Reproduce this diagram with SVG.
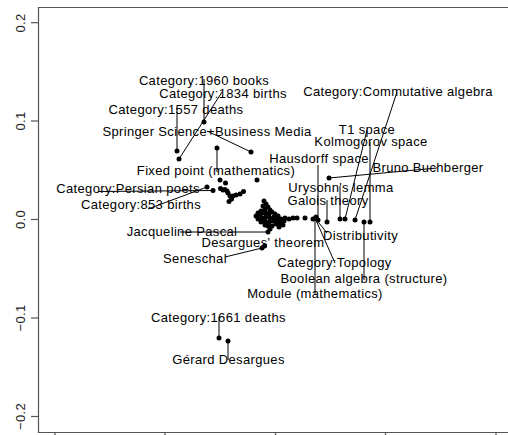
<svg xmlns="http://www.w3.org/2000/svg" width="508" height="435" viewBox="0 0 508 435">
<style>
text{font-family:"Liberation Sans",Arial,Helvetica,sans-serif;font-size:13px;letter-spacing:0.35px;fill:#000;text-anchor:middle}
.ax{font-size:13px;fill:#222}
.frame{fill:none;stroke:#555;stroke-width:1.2}
.tick{stroke:#555;stroke-width:1.2}
.conn line{stroke:#000;stroke-width:1}
.pt circle{fill:#000}
</style>
<rect width="508" height="435" fill="#fff"/>
<g id="axes">
<path class="frame" d="M509 7.5 H38.5 V432.5 H509"/>
<line class="tick" x1="31" y1="22.7" x2="38.5" y2="22.7"/>
<line class="tick" x1="31" y1="121" x2="38.5" y2="121"/>
<line class="tick" x1="31" y1="219.5" x2="38.5" y2="219.5"/>
<line class="tick" x1="31" y1="318" x2="38.5" y2="318"/>
<line class="tick" x1="31" y1="416.5" x2="38.5" y2="416.5"/>
<line class="tick" x1="55" y1="432.5" x2="55" y2="440"/>
<line class="tick" x1="165" y1="432.5" x2="165" y2="440"/>
<line class="tick" x1="275.5" y1="432.5" x2="275.5" y2="440"/>
<line class="tick" x1="385.5" y1="432.5" x2="385.5" y2="440"/>
<line class="tick" x1="496" y1="432.5" x2="496" y2="440"/>
<text class="ax" transform="translate(25,23) rotate(-90)">0.2</text>
<text class="ax" transform="translate(25,121) rotate(-90)">0.1</text>
<text class="ax" transform="translate(25,219.5) rotate(-90)">0.0</text>
<text class="ax" transform="translate(25,318) rotate(-90)">−0.1</text>
<text class="ax" transform="translate(25,416.5) rotate(-90)">−0.2</text>
</g>
<g id="connectors" class="conn">
<line x1="204" y1="122" x2="204" y2="79"/>
<line x1="179" y1="159" x2="222" y2="92"/>
<line x1="177" y1="151" x2="177" y2="108"/>
<line x1="251" y1="152" x2="207" y2="131"/>
<line x1="217" y1="148" x2="217" y2="172"/>
<line x1="213" y1="190.5" x2="98" y2="191.5"/>
<line x1="207" y1="187" x2="148" y2="209"/>
<line x1="268" y1="232" x2="180" y2="232"/>
<line x1="262" y1="248" x2="225" y2="257"/>
<line x1="219" y1="338" x2="219" y2="317"/>
<line x1="228" y1="341" x2="228" y2="360"/>
<line x1="355" y1="220" x2="397" y2="92"/>
<line x1="345" y1="219" x2="367" y2="130"/>
<line x1="370" y1="222" x2="370" y2="142"/>
<line x1="329" y1="178" x2="437" y2="168"/>
<line x1="318" y1="219" x2="318" y2="165"/>
<line x1="340" y1="219" x2="340" y2="186"/>
<line x1="327" y1="222" x2="327" y2="200"/>
<line x1="315" y1="218" x2="327" y2="233"/>
<line x1="315" y1="218" x2="335" y2="263"/>
<line x1="315" y1="218" x2="315" y2="295"/>
<line x1="364" y1="222" x2="364" y2="280"/>
</g>
<g id="points" class="pt">
<circle cx="204" cy="122" r="2.5"/>
<circle cx="177" cy="151" r="2.5"/>
<circle cx="179" cy="159" r="2.5"/>
<circle cx="217" cy="148" r="2.5"/>
<circle cx="251" cy="152" r="2.5"/>
<circle cx="257" cy="180" r="2.5"/>
<circle cx="207" cy="187" r="2.5"/>
<circle cx="213" cy="190.5" r="2.5"/>
<circle cx="220" cy="180" r="2.5"/>
<circle cx="225.5" cy="183" r="2.5"/>
<circle cx="220.5" cy="188.5" r="2.5"/>
<circle cx="223" cy="190" r="2.5"/>
<circle cx="225" cy="189.5" r="2.5"/>
<circle cx="227" cy="191" r="2.5"/>
<circle cx="228" cy="193" r="2.5"/>
<circle cx="230" cy="196" r="2.5"/>
<circle cx="231.5" cy="199" r="2.5"/>
<circle cx="229" cy="201.5" r="2.5"/>
<circle cx="233" cy="196" r="2.5"/>
<circle cx="236" cy="195" r="2.5"/>
<circle cx="240" cy="194" r="2.5"/>
<circle cx="243.5" cy="191.5" r="2.5"/>
<circle cx="264" cy="201" r="2.5"/>
<circle cx="266" cy="204" r="2.5"/>
<circle cx="263" cy="206" r="2.5"/>
<circle cx="268" cy="207" r="2.5"/>
<circle cx="265" cy="209" r="2.5"/>
<circle cx="270" cy="210" r="2.5"/>
<circle cx="261" cy="211" r="2.5"/>
<circle cx="258" cy="213" r="2.5"/>
<circle cx="256" cy="216" r="2.5"/>
<circle cx="260" cy="215" r="2.5"/>
<circle cx="263" cy="213" r="2.5"/>
<circle cx="266" cy="213" r="2.5"/>
<circle cx="269" cy="214" r="2.5"/>
<circle cx="272" cy="212" r="2.5"/>
<circle cx="275" cy="214" r="2.5"/>
<circle cx="258" cy="219" r="2.5"/>
<circle cx="262" cy="218" r="2.5"/>
<circle cx="266" cy="217" r="2.5"/>
<circle cx="270" cy="218" r="2.5"/>
<circle cx="274" cy="217" r="2.5"/>
<circle cx="278" cy="216" r="2.5"/>
<circle cx="261" cy="222" r="2.5"/>
<circle cx="265" cy="221" r="2.5"/>
<circle cx="269" cy="222" r="2.5"/>
<circle cx="273" cy="221" r="2.5"/>
<circle cx="277" cy="220" r="2.5"/>
<circle cx="281" cy="219" r="2.5"/>
<circle cx="285" cy="218" r="2.5"/>
<circle cx="289" cy="219" r="2.5"/>
<circle cx="293" cy="218" r="2.5"/>
<circle cx="284" cy="221" r="2.5"/>
<circle cx="280" cy="223" r="2.5"/>
<circle cx="276" cy="224" r="2.5"/>
<circle cx="272" cy="226" r="2.5"/>
<circle cx="268" cy="226" r="2.5"/>
<circle cx="265" cy="225" r="2.5"/>
<circle cx="279" cy="227" r="2.5"/>
<circle cx="283" cy="225" r="2.5"/>
<circle cx="270" cy="229" r="2.5"/>
<circle cx="268" cy="232" r="2.5"/>
<circle cx="297" cy="218" r="2.5"/>
<circle cx="305" cy="218" r="2.5"/>
<circle cx="313" cy="219" r="2.5"/>
<circle cx="316" cy="217" r="2.5"/>
<circle cx="318" cy="220" r="2.5"/>
<circle cx="327" cy="222" r="2.5"/>
<circle cx="340" cy="219" r="2.5"/>
<circle cx="345" cy="219" r="2.5"/>
<circle cx="355" cy="220" r="2.5"/>
<circle cx="364" cy="222" r="2.5"/>
<circle cx="370" cy="222" r="2.5"/>
<circle cx="329" cy="178" r="2.5"/>
<circle cx="262" cy="248" r="2.5"/>
<circle cx="264.5" cy="246" r="2.5"/>
<circle cx="219" cy="338" r="2.5"/>
<circle cx="228" cy="341" r="2.5"/>
</g>
<g id="labels">
<text x="204" y="85">Category:1960 books</text>
<text x="223" y="98">Category:1834 births</text>
<text x="176" y="114">Category:1557 deaths</text>
<text x="207" y="136">Springer Science+Business Media</text>
<text x="216" y="175">Fixed point (mathematics)</text>
<text x="128" y="193">Category:Persian poets</text>
<text x="141" y="209">Category:853 births</text>
<text x="182" y="236">Jacqueline Pascal</text>
<text x="263" y="247">Desargues' theorem</text>
<text x="195" y="263">Seneschal</text>
<text x="218.5" y="322">Category:1661 deaths</text>
<text x="228.5" y="364">Gérard Desargues</text>
<text x="398" y="96">Category:Commutative algebra</text>
<text x="367" y="134">T1 space</text>
<text x="371" y="146">Kolmogorov space</text>
<text x="319" y="163">Hausdorff space</text>
<text x="428" y="172">Bruno Buchberger</text>
<text x="341" y="192">Urysohn's lemma</text>
<text x="328" y="205">Galois theory</text>
<text x="360.5" y="240">Distributivity</text>
<text x="334.5" y="267">Category:Topology</text>
<text x="364" y="283">Boolean algebra (structure)</text>
<text x="315" y="298">Module (mathematics)</text>
</g>
</svg>
